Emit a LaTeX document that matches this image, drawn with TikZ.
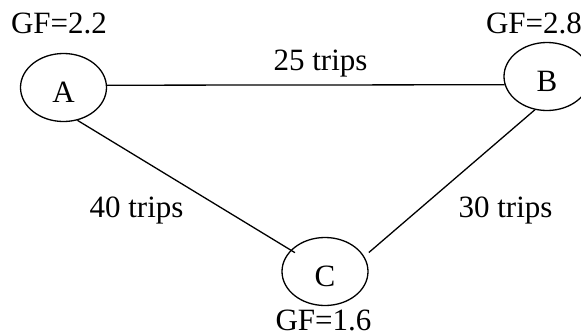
\documentclass[tikz,border=0pt]{standalone}
\usepackage{fontspec}
\setmainfont{Liberation Serif}
\usetikzlibrary{shapes.geometric}
\begin{document}
\begin{tikzpicture}[x=1pt,y=1pt,
  every node/.style={font=\fontsize{31pt}{37pt}\selectfont},
  city/.style={draw,ellipse,line width=1.3pt,minimum width=86pt,minimum height=68pt,
    inner sep=0pt,text height=29pt,text depth=0pt},
  lbl/.style={anchor=base,inner sep=0pt},
  road/.style={line width=1.3pt}]
\useasboundingbox (0,0) rectangle (581,333);
\node[city] (A) at (63.5,245.5) {A};
\node[city] (B) at (547,256.5) {B};
\node[city] (C) at (325,61.5) {C};
\node[lbl] (gfa) at (59,300) {GF=2.2};
\node[lbl] (gfb) at (534,300) {GF=2.8};
\node[lbl] (gfc) at (323.5,2.5) {GF=1.6};
\node[lbl] (tab) at (320.5,263) {25 trips};
\node[lbl] (tac) at (136.5,116) {40 trips};
\node[lbl] (tbc) at (505.5,116) {30 trips};
\draw[road] (A.3) -- (B.191.5);
\draw[road,shorten >=-5pt] (A.-67) -- (C.148.4);
\draw[road,shorten >=6pt] (B.-110) -- (C.21);
\end{tikzpicture}
\end{document}
